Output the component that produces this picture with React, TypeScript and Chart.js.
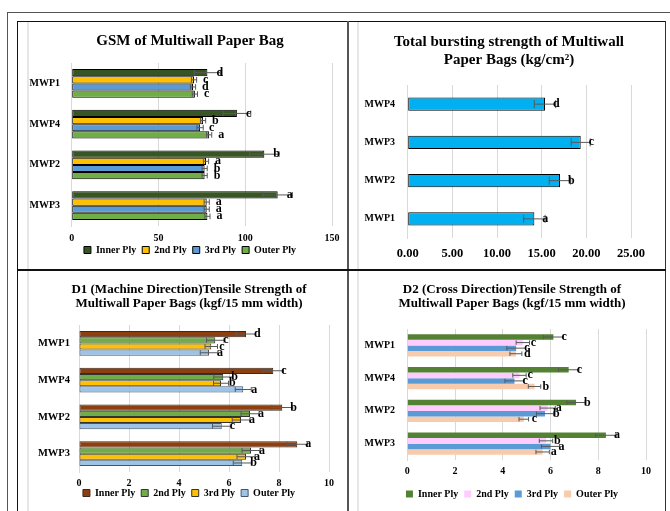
import React, { useEffect, useRef } from 'react';
import { Chart, registerables } from 'chart.js';

Chart.register(...registerables);

const FONT = "'Liberation Serif', 'Times New Roman', serif";

const plyNames = ['Inner Ply', '2nd Ply', '3rd Ply', 'Outer Ply'];

// ---- GSM of Multiwall Paper Bag ----
const gsmCategories = ['MWP1', 'MWP4', 'MWP2', 'MWP3'];
const gsmInner = [78.2, 95.2, 111.0, 118.7];
const gsmInnerErr = [7.5, 8.0, 8.5, 8.5];
const gsmInnerLetters = ['d', 'c', 'b', 'a'];
const gsm2nd = [70.5, 75.7, 77.4, 77.8];
const gsm2ndErr = [1.5, 1.5, 1.5, 1.5];
const gsm2ndLetters = ['c', 'b', 'a', 'a'];
const gsm3rd = [69.9, 74.0, 76.6, 77.8];
const gsm3rdErr = [1.5, 1.8, 1.5, 1.5];
const gsm3rdLetters = ['d', 'c', 'b', 'a'];
const gsmOuter = [71.0, 79.2, 76.6, 78.2];
const gsmOuterErr = [1.5, 1.5, 1.5, 1.5];
const gsmOuterLetters = ['c', 'a', 'b', 'a'];

// ---- Total bursting strength ----
const burstCategories = ['MWP4', 'MWP3', 'MWP2', 'MWP1'];
const burstValues = [15.37, 19.37, 17.05, 14.18];
const burstErr = [1.2, 1.06, 1.2, 1.2];
const burstLetters = ['d', 'c', 'b', 'a'];

// ---- D1 (Machine Direction) ----
const d1Categories = ['MWP1', 'MWP4', 'MWP2', 'MWP3'];
const d1Inner = [6.68, 7.77, 8.13, 8.73];
const d1InnerErr = [0.39, 0.41, 0.42, 0.41];
const d1InnerLetters = ['d', 'c', 'b', 'a'];
const d12nd = [5.45, 5.77, 6.84, 6.88];
const d12ndErr = [0.35, 0.38, 0.36, 0.36];
const d12ndLetters = ['c', 'b', 'a', 'a'];
const d13rd = [5.29, 5.68, 6.48, 6.68];
const d13rdErr = [0.25, 0.3, 0.35, 0.36];
const d13rdLetters = ['c', 'b', 'a', 'a'];
const d1Outer = [5.2, 6.57, 5.71, 6.53];
const d1OuterErr = [0.35, 0.32, 0.37, 0.36];
const d1OuterLetters = ['a', 'a', 'c', 'b'];

// ---- D2 (Cross Direction) ----
const d2Categories = ['MWP1', 'MWP4', 'MWP2', 'MWP3'];
const d2Inner = [6.12, 6.76, 7.07, 8.32];
const d2InnerErr = [0.42, 0.43, 0.38, 0.43];
const d2InnerLetters = ['c', 'c', 'b', 'a'];
const d22nd = [4.84, 4.7, 5.88, 5.81];
const d22ndErr = [0.28, 0.28, 0.32, 0.28];
const d22ndLetters = ['c', 'c', 'a', 'b'];
const d23rd = [4.56, 4.49, 5.77, 6.0];
const d23rdErr = [0.39, 0.4, 0.36, 0.38];
const d23rdLetters = ['c', 'c', 'b', 'a'];
const d2Outer = [4.55, 5.33, 4.88, 5.67];
const d2OuterErr = [0.25, 0.26, 0.2, 0.28];
const d2OuterLetters = ['d', 'b', 'c', 'a'];

const errorLetterPlugin = {
  id: 'errLetters',
  afterDatasetsDraw(chart: any, _args: any, opts: any) {
    const ctx = chart.ctx;
    const xs = chart.scales.x;
    chart.data.datasets.forEach((ds: any, di: number) => {
      const meta = chart.getDatasetMeta(di);
      if (meta.hidden) return;
      meta.data.forEach((bar: any, i: number) => {
        const v = ds.data[i];
        const e = ds.errors ? ds.errors[i] : 0;
        const y = bar.y;
        const h = bar.height;
        const x1 = xs.getPixelForValue(v - e);
        const x2 = xs.getPixelForValue(v + e);
        const c = Math.min(h * 0.4, 4);
        ctx.save();
        ctx.strokeStyle = '#595959';
        ctx.lineWidth = 1;
        ctx.beginPath();
        ctx.moveTo(x1, y);
        ctx.lineTo(x2, y);
        ctx.moveTo(x1, y - c);
        ctx.lineTo(x1, y + c);
        ctx.moveTo(x2, y - c);
        ctx.lineTo(x2, y + c);
        ctx.stroke();
        if (ds.letters) {
          ctx.fillStyle = '#000';
          ctx.font = `bold ${opts.size || 12}px ${FONT}`;
          ctx.textBaseline = 'middle';
          ctx.textAlign = 'left';
          ctx.fillText(ds.letters[i], bar.x + (opts.offset || 8), y);
        }
        ctx.restore();
      });
    });
  },
};

// let tick labels spill outside the fixed axis boxes (no clipping)
const noLabelClip = (s: any) => {
  s._computeLabelArea = () => undefined;
};

function ds(label: string, data: number[], errors: number[], letters: string[], bg: string, border: string, bw: number) {
  return { label, data, errors, letters, backgroundColor: bg, borderColor: border, borderWidth: bw, borderSkipped: false };
}

function barConfig(p: any) {
  return {
    type: 'bar',
    data: { labels: p.labels, datasets: p.datasets },
    options: {
      indexAxis: 'y',
      responsive: false,
      animation: false,
      layout: { padding: p.padding },
      datasets: { bar: { categoryPercentage: p.catPct, barPercentage: 1 } },
      scales: {
        x: {
          min: 0,
          max: p.max,
          ticks: {
            stepSize: p.step,
            padding: p.xTickPad,
            color: '#000',
            font: { family: FONT, size: p.xTickSize, weight: 'bold' },
            callback: p.xFmt || ((v: any) => String(v)),
          },
          grid: { color: '#D9D9D9', drawTicks: false, lineWidth: 1 },
          border: { display: false },
          afterFit: (s: any) => { s.height = p.xHeight; },
          afterUpdate: noLabelClip,
        },
        y: {
          ticks: { padding: p.yTickPad, color: '#000', font: { family: FONT, size: p.yTickSize, weight: 'bold' } },
          grid: { display: false, drawTicks: false },
          border: { display: true, color: '#D9D9D9' },
          afterFit: (s: any) => { s.width = p.yWidth; },
          afterUpdate: noLabelClip,
        },
      },
      plugins: {
        title: {
          display: true,
          text: p.title,
          color: '#000',
          font: { family: FONT, size: p.titleSize, weight: 'bold', lineHeight: p.titleLH },
          padding: p.titlePad,
        },
        legend: p.legend
          ? {
              display: true,
              position: 'bottom',
              labels: {
                boxWidth: 7,
                boxHeight: 7,
                padding: 6,
                color: '#000',
                font: { family: FONT, size: 10, weight: 'bold' },
              },
            }
          : { display: false },
        tooltip: { enabled: false },
        errLetters: { size: p.letterSize, offset: p.letterOffset },
      },
    },
    plugins: [errorLetterPlugin],
  };
}

function ChartBox({ left, top, width, height, build }: any) {
  const ref = useRef<HTMLCanvasElement | null>(null);
  useEffect(() => {
    const chart = new Chart(ref.current as HTMLCanvasElement, build() as any);
    return () => chart.destroy();
  }, []);
  return (
    <div style={{ position: 'absolute', left, top, width, height }}>
      <canvas ref={ref} width={width} height={height} style={{ width, height, display: 'block' }} />
    </div>
  );
}

const gsmBuild = () =>
  barConfig({
    labels: gsmCategories,
    datasets: [
      ds(plyNames[0], gsmInner, gsmInnerErr, gsmInnerLetters, '#375623', '#000', 1),
      ds(plyNames[1], gsm2nd, gsm2ndErr, gsm2ndLetters, '#FFC000', '#000', 1),
      ds(plyNames[2], gsm3rd, gsm3rdErr, gsm3rdLetters, '#5B9BD5', '#000', 1),
      ds(plyNames[3], gsmOuter, gsmOuterErr, gsmOuterLetters, '#70AD47', '#000', 1),
    ],
    padding: { left: 21, right: 16, top: 0, bottom: 4 },
    catPct: 0.7,
    max: 150,
    step: 50,
    xTickPad: 6,
    xTickSize: 10,
    xHeight: 13,
    yTickPad: 11.7,
    yTickSize: 10,
    yWidth: 23.7,
    title: 'GSM of Multiwall Paper Bag',
    titleSize: 15,
    titleLH: 1.2,
    titlePad: { top: 9, bottom: 13 },
    legend: true,
    letterSize: 12,
    letterOffset: 9,
  });

const burstBuild = () =>
  barConfig({
    labels: burstCategories,
    datasets: [ds('Bursting strength', burstValues, burstErr, burstLetters, '#00B0F0', '#000', 1)],
    padding: { left: 30, right: 32, top: 0, bottom: 6 },
    catPct: 0.35,
    max: 25,
    step: 5,
    xTickPad: 8,
    xTickSize: 12.5,
    xHeight: 25,
    xFmt: (v: any) => Number(v).toFixed(2),
    yTickPad: 12.7,
    yTickSize: 10,
    yWidth: 20.7,
    title: ['Total bursting strength of Multiwall', 'Paper Bags (kg/cm\u00B2)'],
    titleSize: 15,
    titleLH: 1.22,
    titlePad: { top: 9.5, bottom: 15.9 },
    legend: false,
    letterSize: 12,
    letterOffset: 8,
  });

const d1Build = () =>
  barConfig({
    labels: d1Categories,
    datasets: [
      ds(plyNames[0], d1Inner, d1InnerErr, d1InnerLetters, '#8E3F0E', '#3a2a20', 1),
      ds(plyNames[1], d12nd, d12ndErr, d12ndLetters, '#70AD47', '#333', 1),
      ds(plyNames[2], d13rd, d13rdErr, d13rdLetters, '#FFC000', '#333', 1),
      ds(plyNames[3], d1Outer, d1OuterErr, d1OuterLetters, '#9DC3E6', '#44546A', 1),
    ],
    padding: { left: 22, right: 19, top: 0, bottom: 3 },
    catPct: 0.68,
    max: 10,
    step: 2,
    xTickPad: 5,
    xTickSize: 10,
    xHeight: 10,
    yTickPad: 9,
    yTickSize: 10.5,
    yWidth: 30,
    title: ['D1 (Machine Direction)Tensile Strength of', 'Multiwall Paper Bags (kgf/15 mm width)'],
    titleSize: 13,
    titleLH: 1.1,
    titlePad: { top: 10.3, bottom: 14.1 },
    legend: true,
    letterSize: 12,
    letterOffset: 8,
  });

const d2Build = () =>
  barConfig({
    labels: d2Categories,
    datasets: [
      ds(plyNames[0], d2Inner, d2InnerErr, d2InnerLetters, '#548235', '#548235', 0),
      ds(plyNames[1], d22nd, d22ndErr, d22ndLetters, '#FFCCFF', '#FFCCFF', 0),
      ds(plyNames[2], d23rd, d23rdErr, d23rdLetters, '#5B9BD5', '#5B9BD5', 0),
      ds(plyNames[3], d2Outer, d2OuterErr, d2OuterLetters, '#F8CBAD', '#F8CBAD', 0),
    ],
    padding: { left: 21, right: 17, top: 0, bottom: 2 },
    catPct: 0.68,
    max: 10,
    step: 2,
    xTickPad: 5,
    xTickSize: 10,
    xHeight: 23,
    yTickPad: 12.3,
    yTickSize: 10,
    yWidth: 29.3,
    title: ['D2 (Cross Direction)Tensile Strength of', 'Multiwall Paper Bags (kgf/15 mm width)'],
    titleSize: 13,
    titleLH: 1.1,
    titlePad: { top: 10.3, bottom: 18.1 },
    legend: true,
    letterSize: 12,
    letterOffset: 8,
  });

export default function App() {
  const line = (s: any) => <div style={{ position: 'absolute', ...s }} />;
  return (
    <div style={{ position: 'absolute', left: 0, top: 0, width: 670, height: 511, overflow: 'hidden', background: '#fff' }}>
      {/* outer frame */}
      {line({ left: 7, top: 12, width: 700, height: 1, background: '#555' })}
      {line({ left: 7, top: 12, width: 1, height: 520, background: '#555' })}
      {/* chart area light borders */}
      {line({ left: 27, top: 22, width: 2, height: 500, background: '#E6E6E6' })}
      {line({ left: 357, top: 22, width: 2, height: 500, background: '#E6E6E6' })}
      <ChartBox left={27} top={23} width={321} height={246} build={gsmBuild} />
      <ChartBox left={357} top={23} width={306} height={246} build={burstBuild} />
      <ChartBox left={27} top={272} width={321} height={239} build={d1Build} />
      <ChartBox left={357} top={272} width={306} height={239} build={d2Build} />
      {/* table lines */}
      {line({ left: 17, top: 21, width: 649, height: 1, background: '#111' })}
      {line({ left: 17, top: 21, width: 1, height: 500, background: '#111' })}
      {line({ left: 665, top: 21, width: 1, height: 500, background: '#333' })}
      {line({ left: 347, top: 21, width: 2, height: 500, background: '#555' })}
      {line({ left: 17, top: 269, width: 649, height: 2, background: '#111' })}
    </div>
  );
}
